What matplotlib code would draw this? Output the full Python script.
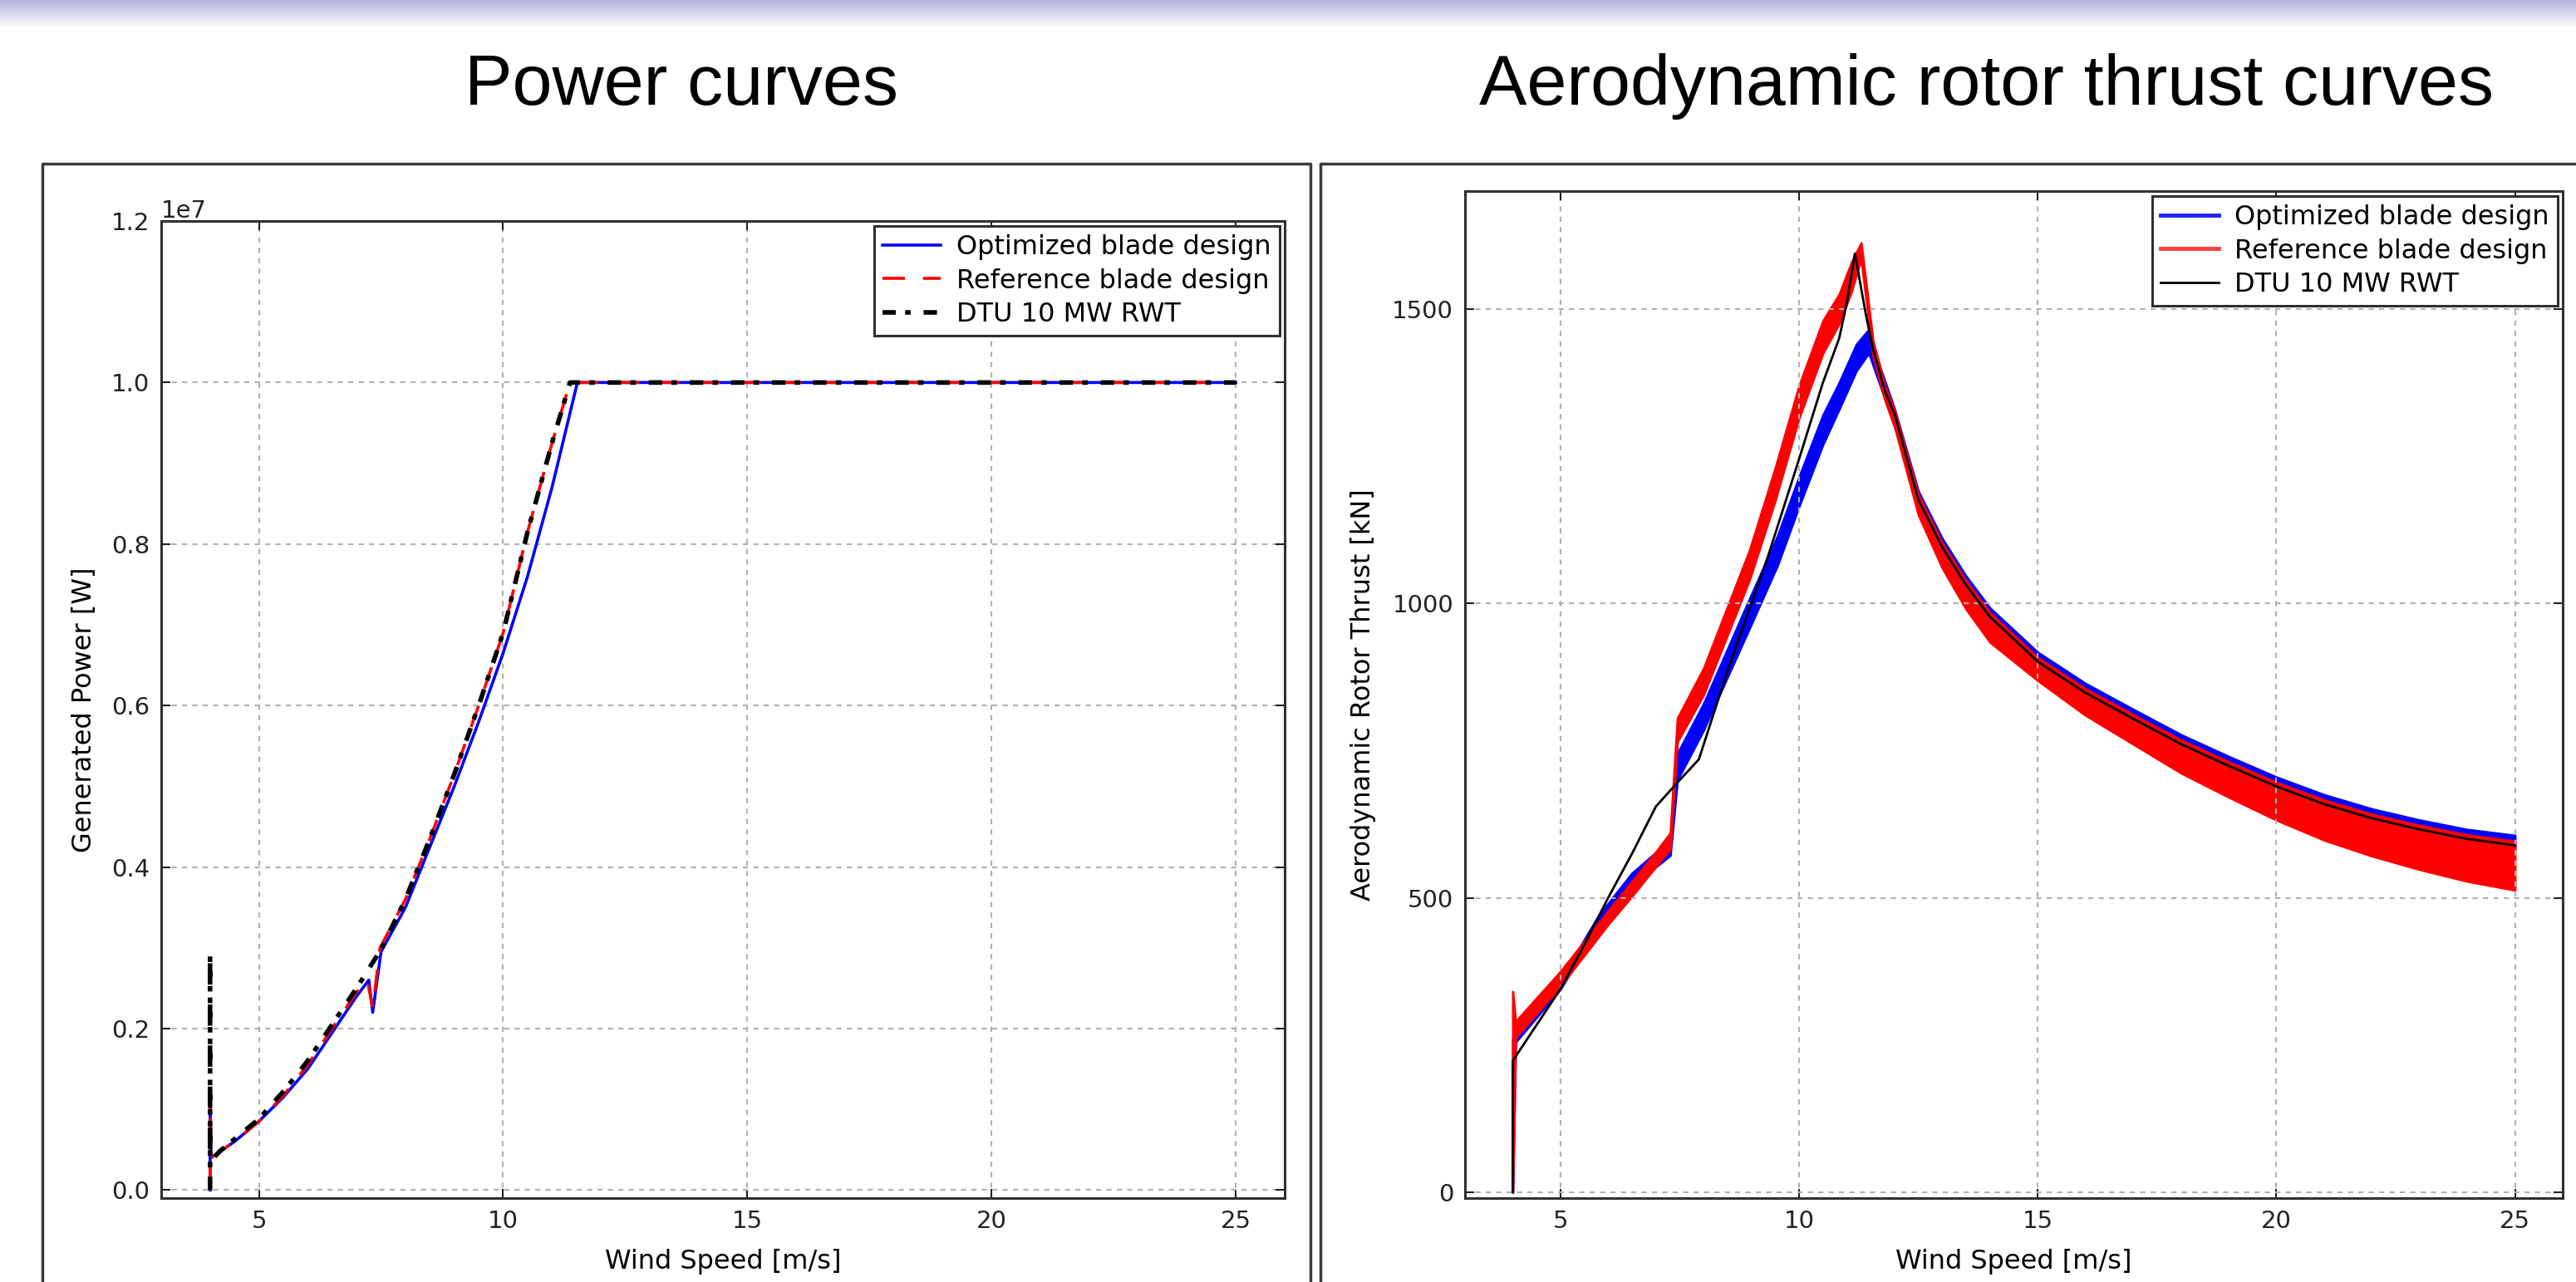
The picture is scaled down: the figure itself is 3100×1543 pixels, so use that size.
import numpy as np
import matplotlib.pyplot as plt
from matplotlib.lines import Line2D
from matplotlib.colors import LinearSegmentedColormap

# ---------------------------------------------------------------
# Power curves (wind speed [m/s], power [MW])
ws_p_opt = [4.0, 4.0, 4.02, 4.5, 5.0, 5.5, 6.0, 6.5, 7.0, 7.25, 7.33, 7.5, 8.0, 8.5,
            9.0, 9.5, 10.0, 10.5, 11.0, 11.52, 25.0]
p_opt = [0.0, 1.2, 0.4, 0.6, 0.85, 1.15, 1.5, 1.95, 2.4, 2.6, 2.2, 2.95, 3.5, 4.25,
         5.0, 5.8, 6.65, 7.6, 8.7, 10.0, 10.0]

ws_p_ref = [4.0, 4.0, 4.02, 4.5, 5.0, 5.5, 6.0, 6.5, 7.0, 7.22, 7.33, 7.48, 8.0, 8.5,
            9.0, 9.5, 10.0, 10.5, 11.0, 11.37, 25.0]
p_ref = [0.0, 1.2, 0.4, 0.6, 0.85, 1.17, 1.55, 2.0, 2.45, 2.6, 2.25, 3.0, 3.6, 4.35,
         5.15, 6.0, 6.9, 8.15, 9.25, 10.0, 10.0]

ws_p_dtu = [4.0, 4.0, 4.0, 4.2, 5.0, 5.5, 6.0, 6.5, 7.0, 7.5, 8.0, 8.5, 9.0, 9.5,
            10.0, 10.5, 11.0, 11.37, 25.0]
p_dtu = [0.0, 2.93, 0.35, 0.48, 0.88, 1.22, 1.6, 2.05, 2.5, 2.98, 3.6, 4.35, 5.15, 6.0,
         6.9, 8.15, 9.25, 10.0, 10.0]

# ---------------------------------------------------------------
# Aerodynamic rotor thrust (wind speed [m/s], thrust [kN]), bands = lower/upper envelope
ws_t_opt = [4.0, 4.0, 4.06, 5.0, 5.3, 5.8, 6.5, 7.3, 7.45, 8.0, 9.0, 9.55, 10.0, 10.5,
            10.84, 11.2, 11.46, 11.7, 12.0, 12.5, 13.0, 13.5, 14.0, 15.0, 16.0, 17.0,
            18.0, 19.0, 20.0, 21.0, 22.0, 23.0, 24.0, 25.0]
t_opt_lo = [0, 0, 255, 345, 385, 450, 520, 572, 700, 785, 965, 1065, 1165, 1270,
            1330, 1395, 1425, 1370, 1300, 1173, 1092, 1028, 974, 898, 845, 801,
            758, 721, 686, 656, 632, 613, 597, 586]
t_opt_hi = [0, 260, 275, 362, 402, 470, 542, 598, 745, 830, 1015, 1115, 1215, 1320,
            1375, 1440, 1465, 1400, 1330, 1190, 1110, 1046, 992, 917, 864, 820,
            777, 740, 705, 675, 651, 632, 616, 606]

ws_t_ref = [4.0, 4.0, 4.06, 5.0, 6.0, 6.5, 7.0, 7.3, 7.45, 8.0, 8.96, 9.5, 10.0, 10.5,
            10.84, 11.1, 11.3, 11.55, 11.8, 12.0, 12.5, 13.0, 13.5, 14.0, 15.0, 16.0,
            17.0, 18.0, 19.0, 20.0, 21.0, 22.0, 23.0, 24.0, 25.0]
t_ref_lo = [0, 0, 262, 350, 455, 503, 553, 583, 765, 845, 1040, 1175, 1315, 1425,
            1475, 1530, 1585, 1420, 1345, 1300, 1150, 1060, 990, 934, 869, 810,
            761, 712, 671, 632, 598, 571, 548, 528, 513]
t_ref_hi = [0, 341, 290, 375, 478, 528, 578, 610, 805, 890, 1090, 1230, 1370, 1480,
            1525, 1580, 1612, 1445, 1368, 1328, 1184, 1102, 1038, 984, 908, 855,
            811, 768, 731, 696, 666, 642, 623, 607, 596]

ws_t_dtu = [4.0, 4.0, 5.0, 5.5, 6.0, 6.5, 7.0, 7.5, 7.9, 8.5, 9.0, 9.35, 10.0, 10.5,
            10.84, 11.0, 11.17, 11.4, 11.55, 11.8, 12.0, 12.5, 13.0, 13.5, 14.0, 15.0,
            16.0, 17.0, 18.0, 19.0, 20.0, 21.0, 22.0, 23.0, 24.0, 25.0]
t_dtu = [0, 223, 345, 420, 500, 575, 655, 700, 735, 885, 1000, 1080, 1245, 1375,
         1450, 1510, 1594, 1490, 1432, 1360, 1322, 1176, 1095, 1031, 977, 901,
         848, 804, 761, 724, 689, 659, 635, 616, 600, 589]

labels = ['Optimized blade design', 'Reference blade design', 'DTU 10 MW RWT']
titles = ['Power curves', 'Aerodynamic rotor thrust curves']
wind_ticks = [5, 10, 15, 20, 25]
thrust_ticks = [0, 500, 1000, 1500]

W, H = 3100, 1543
fig = plt.figure(figsize=(W / 100, H / 100), dpi=100)
fig.patch.set_facecolor('white')

# slide header band
band = fig.add_axes([0, 1 - 34 / H, 1, 34 / H])
band.imshow(np.linspace(0, 1, 60).reshape(-1, 1), aspect='auto',
            cmap=LinearSegmentedColormap.from_list('hdr', ['#b4b4dc', '#ffffff']))
band.axis('off')

# slide titles
fig.text(820 / W, 1 - 126 / H, titles[0], ha='center', va='baseline',
         fontsize=62, family='Liberation Sans')
fig.text(2391 / W, 1 - 126 / H, titles[1], ha='center', va='baseline',
         fontsize=62, family='Liberation Sans')

# picture frames around each plot
frame_kw = dict(transform=fig.transFigure, color='#3a3a3a', lw=2.5)
for x0, x1 in [(51, 1577), (1589, 3140)]:
    fig.add_artist(Line2D([x0 / W, x0 / W, x1 / W, x1 / W],
                          [-0.1, 1 - 197 / H, 1 - 197 / H, -0.1], **frame_kw))

ax1 = fig.add_axes([194 / W, 1 - 1442 / H, (1546 - 194) / W, (1442 - 266) / H])
ax2 = fig.add_axes([1763 / W, 1 - 1442 / H, (3084 - 1763) / W, (1442 - 230) / H])

# power curves
ax1.plot(ws_p_opt, np.array(p_opt) * 1e6, color='b', lw=2.6, label=labels[0])
ax1.plot(ws_p_ref, np.array(p_ref) * 1e6, color='r', lw=2.6, ls=(0, (7.5, 6)),
         label=labels[1])
ax1.plot(ws_p_dtu, np.array(p_dtu) * 1e6, color='k', lw=4, ls=(0, (2.9, 2.0, 1.2, 2.8)),
         label=labels[2])
ax1.set_xlim(3, 26)
ax1.set_ylim(-1e5, 1.2e7)
ax1.set_ylabel('Generated Power [W]', fontsize=23, labelpad=12)
leg_kw = dict(loc='upper right', fontsize=23, handlelength=2.2, handletextpad=0.6,
              borderpad=0.3, labelspacing=0.3, borderaxespad=0.2, fancybox=False)
leg1 = ax1.legend(**leg_kw)

# thrust curves
ax2.fill_between(ws_t_opt, t_opt_lo, t_opt_hi, color='b', lw=2)
ax2.fill_between(ws_t_ref, t_ref_lo, t_ref_hi, color='r', lw=2)
ax2.plot(ws_t_dtu, t_dtu, color='k', lw=2)
ax2.set_xlim(3, 26)
ax2.set_ylim(-10, 1700)
ax2.set_yticks(thrust_ticks)
ax2.set_ylabel('Aerodynamic Rotor Thrust [kN]', fontsize=23, labelpad=14)
handles = [Line2D([], [], color='#2020ff', lw=3.5),
           Line2D([], [], color='#ff4040', lw=3.5),
           Line2D([], [], color='k', lw=2)]
leg2 = ax2.legend(handles, labels, **leg_kw)

for ax, leg in [(ax1, leg1), (ax2, leg2)]:
    ax.set_xticks(wind_ticks)
    ax.set_xlabel('Wind Speed [m/s]', fontsize=23, labelpad=14)
    ax.grid(True, color='#b0b0b0', lw=1.5, ls=(0, (3, 3)))
    ax.tick_params(direction='in', top=True, right=True, length=8, width=1.5,
                   labelsize=21, pad=10, colors='#222222')
    for sp in ax.spines.values():
        sp.set_linewidth(2.2)
        sp.set_color('#303030')
    leg.get_frame().set_edgecolor('#303030')
    leg.get_frame().set_linewidth(2.2)
    leg.get_frame().set_alpha(1)

ax1.yaxis.get_offset_text().set_fontsize(21)

fig.savefig('out.png', dpi=100)
